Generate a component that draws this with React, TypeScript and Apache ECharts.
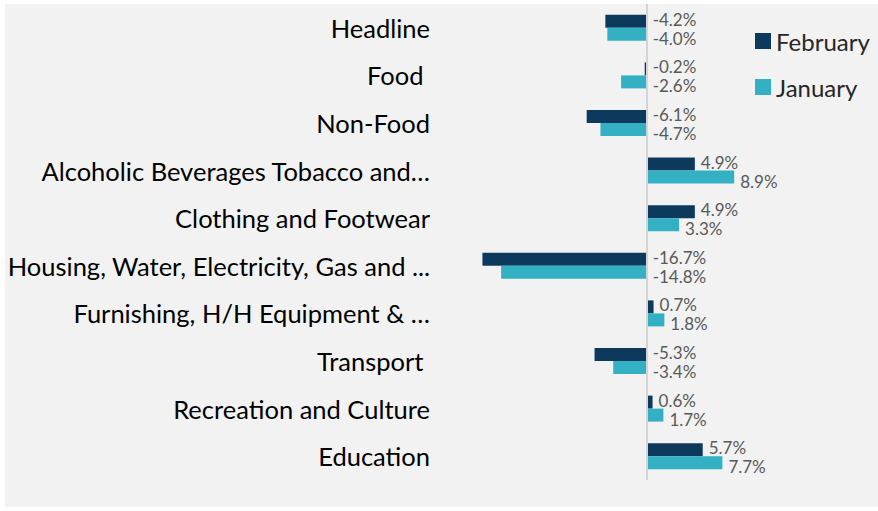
import React, { useEffect, useRef } from "react";
import * as echarts from "echarts";

const categories = [
  "Headline",
  "Food ",
  "Non-Food",
  "Alcoholic Beverages Tobacco and…",
  "Clothing and Footwear",
  "Housing, Water, Electricity, Gas and ...",
  "Furnishing, H/H Equipment & …",
  "Transport ",
  "Recreation and Culture",
  "Education",
];
const february = [-4.2, -0.2, -6.1, 4.9, 4.9, -16.7, 0.7, -5.3, 0.6, 5.7];
const january = [-4.0, -2.6, -4.7, 8.9, 3.3, -14.8, 1.8, -3.4, 1.7, 7.7];

const FONT = "Lato, 'Open Sans', sans-serif";

export default function App() {
  const ref = useRef<HTMLDivElement>(null);
  useEffect(() => {
    if (!ref.current) return;
    const chart = echarts.init(ref.current, undefined, { renderer: "svg" });
    const mkLabel = (dy: number) => ({
      show: true,
      position: "right",
      distance: 6,
      offset: [0, dy],
      color: "#595959",
      fontSize: 17,
      lineHeight: 17,
      fontFamily: FONT,
      formatter: (p: any) => p.value.toFixed(1) + "%",
    });
    chart.setOption({
      animation: false,
      backgroundColor: "#ffffff",
      graphic: [
        {
          type: "rect",
          z: -10,
          silent: true,
          shape: { x: 5, y: 4, width: 873, height: 503 },
          style: { fill: "#f2f2f2" },
        },
      ],
      legend: {
        orient: "vertical",
        left: 750,
        top: 24,
        itemWidth: 16,
        itemHeight: 16,
        itemGap: 22,
        icon: "rect",
        textStyle: { fontSize: 24, fontFamily: FONT, color: "#262626" },
        data: ["February", "January"],
      },
      grid: { left: 450, top: 4, width: 295, height: 476 },
      xAxis: {
        type: "value",
        min: -20,
        max: 10,
        show: false,
        splitLine: { show: false },
      },
      yAxis: {
        type: "category",
        data: categories,
        inverse: true,
        axisLine: { show: false, onZero: false },
        axisTick: { show: false },
        axisLabel: {
          margin: 20,
          fontSize: 25.5,
          fontFamily: FONT,
          color: "#000000",
        },
      },
      series: [
        {
          name: "February",
          type: "bar",
          data: february,
          barWidth: 13,
          barGap: "0%",
          itemStyle: { color: "#0d3a5c" },
          label: mkLabel(-2),
          markLine: {
            silent: true,
            symbol: "none",
            label: { show: false },
            lineStyle: { color: "#d4d4d4", width: 2, type: "solid" },
            data: [{ xAxis: 0 }],
          },
        },
        {
          name: "January",
          type: "bar",
          data: january,
          barWidth: 13,
          barGap: "0%",
          itemStyle: { color: "#33b0c3" },
          label: mkLabel(4),
        },
      ],
    });
    return () => chart.dispose();
  }, []);
  return (
    <div
      ref={ref}
      style={{ position: "fixed", left: 0, top: 0, width: 878, height: 511 }}
    />
  );
}
